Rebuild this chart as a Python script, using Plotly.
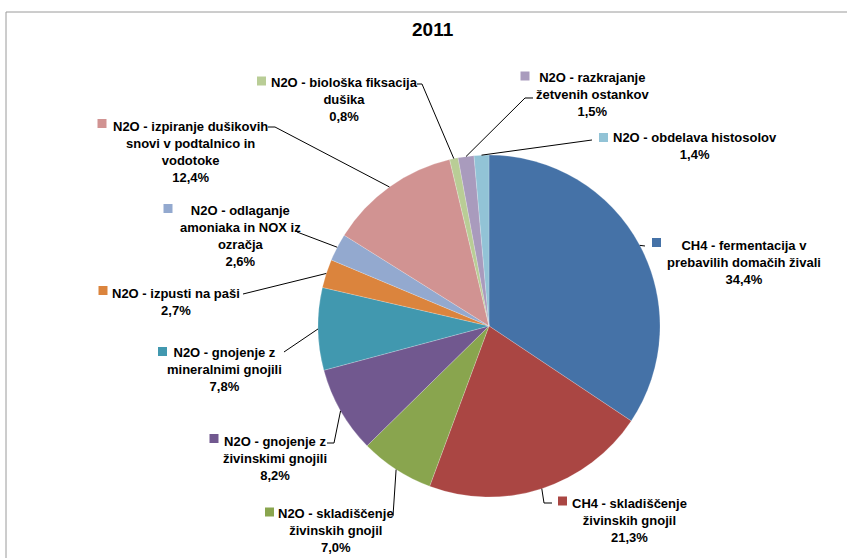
import math
import plotly.graph_objects as go

# ---------------- data ----------------
title_text = "2011"
categories = [
    "CH4 - fermentacija v prebavilih domačih živali",
    "CH4 - skladiščenje živinskih gnojil",
    "N2O - skladiščenje živinskih gnojil",
    "N2O - gnojenje z živinskimi gnojili",
    "N2O - gnojenje z mineralnimi gnojili",
    "N2O - izpusti na paši",
    "N2O - odlaganje amoniaka in NOX iz ozračja",
    "N2O - izpiranje dušikovih snovi v podtalnico in vodotoke",
    "N2O - biološka fiksacija dušika",
    "N2O - razkrajanje žetvenih ostankov",
    "N2O - obdelava histosolov",
]
values = [34.4, 21.3, 7.0, 8.2, 7.8, 2.7, 2.6, 12.4, 0.8, 1.5, 1.4]
# wrapped label lines as shown on the chart
label_lines = [
    ["CH4 - fermentacija v", "prebavilih domačih živali"],
    ["CH4 - skladiščenje", "živinskih gnojil"],
    ["N2O - skladiščenje", "živinskih gnojil"],
    ["N2O - gnojenje z", "živinskimi gnojili"],
    ["N2O - gnojenje z", "mineralnimi gnojili"],
    ["N2O - izpusti na paši"],
    ["N2O - odlaganje", "amoniaka in NOX iz", "ozračja"],
    ["N2O - izpiranje dušikovih", "snovi v podtalnico in", "vodotoke"],
    ["N2O - biološka fiksacija", "dušika"],
    ["N2O - razkrajanje", "žetvenih ostankov"],
    ["N2O - obdelava histosolov"],
]
colors = ["#4572A7", "#AA4643", "#89A54E", "#71588F", "#4198AF", "#DB843D",
          "#93A9CF", "#D19392", "#B9CD96", "#A99BBD", "#92C3D6"]

# ---------------- layout (pixels) ----------------
W, H = 847, 558
CX, CY, R = 489, 326, 171
label_centers = [(744, 262), (629, 520), (336, 530), (275, 458), (224, 369),
                 (176, 302), (240, 235.5), (190, 151.5), (344, 99.5),
                 (592, 94.5), (695, 146)]
key_centers = [(656.5, 242.5), (562.5, 501), (269.5, 512), (214, 438.5),
               (162.5, 351.5), (103, 290.5), (168, 208.5), (102, 123.5),
               (261.5, 81), (525, 76), (603.5, 137.5)]
# leader line points from label side (start, optional elbow)
leader_pts = [
    [(645, 246)],
    [(552, 503), (544, 503)],
    [(393, 516)],
    [(327, 443), (334, 443)],
    [(284, 352)],
    [(243, 294)],
    [(297, 232)],
    [(268, 127), (275, 127)],
    [(417, 84), (422, 84)],
    [(533, 98), (525, 98)],
    [(592, 140)],
]

def px(x):
    return x / W

def py(y):
    return 1 - y / H

FONT = "Liberation Sans, Arial, sans-serif"

fig = go.Figure(go.Pie(
    labels=categories,
    values=values,
    sort=False,
    direction="clockwise",
    rotation=0,
    marker=dict(colors=colors, line=dict(color="rgba(255,255,255,0.5)", width=0.4)),
    textinfo="none",
    hoverinfo="label+percent",
    showlegend=False,
    domain=dict(x=[px(CX - R), px(CX + R)], y=[py(CY + R), py(CY - R)]),
))

annotations = []
shapes = []

# chart frame
shapes.append(dict(type="rect", xref="paper", yref="paper",
                   x0=px(6), y0=py(H + 40), x1=px(W + 40), y1=py(12),
                   line=dict(color="#9a9a9a", width=1), fillcolor="rgba(0,0,0,0)"))

# title
annotations.append(dict(text="<b>%s</b>" % title_text, x=px(433), y=py(30),
                        xref="paper", yref="paper", showarrow=False,
                        xanchor="center", yanchor="middle",
                        font=dict(family=FONT, size=19, color="#000")))

total = sum(values)
cum = 0.0
for i, v in enumerate(values):
    mid = (cum + v / 2) / total
    cum += v
    th = 2 * math.pi * mid
    ax_ = CX + R * math.sin(th)
    ay_ = CY - R * math.cos(th)

    pct = ("%.1f" % v).replace(".", ",") + "%"
    txt = "<br>".join(label_lines[i] + [pct])
    lx, ly = label_centers[i]
    annotations.append(dict(text="<b>%s</b>" % txt, x=px(lx), y=py(ly),
                            xref="paper", yref="paper", showarrow=False,
                            xanchor="center", yanchor="middle", align="center",
                            font=dict(family=FONT, size=13, color="#000")))
    # legend key square
    kx, ky = key_centers[i]
    shapes.append(dict(type="rect", xref="paper", yref="paper",
                       x0=px(kx - 4.5), x1=px(kx + 4.5),
                       y0=py(ky + 4.5), y1=py(ky - 4.5),
                       fillcolor=colors[i], line=dict(width=0)))
    # leader line
    pts = leader_pts[i] + [(ax_, ay_)]
    path = "M " + " L ".join("%f,%f" % (px(a), py(b)) for a, b in pts)
    shapes.append(dict(type="path", xref="paper", yref="paper", path=path,
                       line=dict(color="#000", width=1)))

fig.update_layout(
    width=W, height=H,
    margin=dict(l=0, r=0, t=0, b=0),
    paper_bgcolor="white",
    plot_bgcolor="white",
    annotations=annotations,
    shapes=shapes,
)

fig.write_html("out.html",
               config={"displayModeBar": False},
               post_script="document.body.style.margin='0';"
                           "document.body.style.overflow='hidden';")
